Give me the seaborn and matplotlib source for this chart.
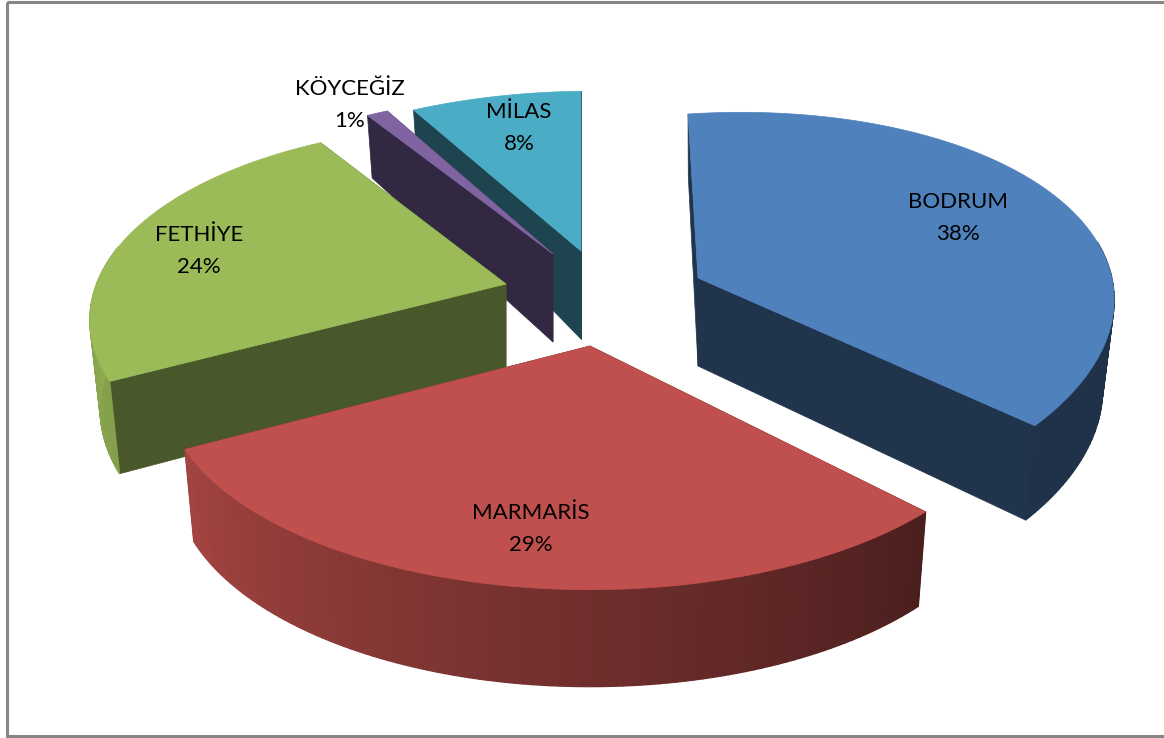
import numpy as np
import matplotlib
matplotlib.use("Agg")
import matplotlib.pyplot as plt
from matplotlib.patches import Rectangle
import seaborn as sns

# data
districts = ["BODRUM", "MARMARİS", "FETHİYE", "KÖYCEĞİZ", "MİLAS"]
shares = [38, 29, 24, 1, 8]

# style
base_colors = ["#4F81BD", "#C0504D", "#9BBB59", "#8064A2", "#4BACC6"]
apex_px = [(698, 278), (590, 346), (506, 284), (553, 254), (581, 251)]
label_px = [(958, 218), (531, 529), (199, 251), (350, 105), (519, 128)]
start_rot = [-1.7, 0, 0, 0, 0]
shear_px = [21, 0, -6, 0, 5]
width_k = [1.0, 1.022, 1.0, 1.0, 1.01]
height_k = [1.03, 1.0, 1.0, 1.0, 1.0]
dark_k = [0.4, 0.4, 0.47, 0.4, 0.4]
lower_k = [0.972, 0.978, 0.975, 0.975, 0.975]
draw_order = [4, 3, 2, 0, 1]

sns.set_theme(style="white")
plt.rcParams["font.family"] = ["Lato", "DejaVu Sans"]
palette = sns.color_palette(base_colors)

RX, RY, PERSP = 407.0, 193.0, 0.208


def rim(theta_deg, i):
    t = np.radians(theta_deg)
    x, y = np.sin(t), np.cos(t)
    w = 1 + PERSP * y
    apex = apex_px[i]
    return (apex[0] + RX * width_k[i] * x / w,
            apex[1] - (RY * height_k[i] * y + shear_px[i] * x) / w, w)


def lower(sx, sy, w, i):
    return (apex_px[i][0] + (sx - apex_px[i][0]) * lower_k[i],
            sy + np.interp(w, [0.79, 1.0, 1.18], [97, 88, 62]))


def wall_light(theta):
    return np.interp(theta, [137, 241, 272], [0.39, 0.85, 0.92])


fig = plt.figure(figsize=(11.64, 7.38), dpi=100)
ax = fig.add_axes([0, 0, 1, 1])
ax.set_xlim(0, 1164)
ax.set_ylim(738, 0)
ax.axis("off")
ax.add_patch(Rectangle((6.5, 1.5), 1170, 734.5, fill=False, ec="#868686", lw=2.2))

edges = np.concatenate([[0], np.cumsum(shares)]) * 3.6
for i in draw_order:
    col = np.array(palette[i])
    a0, a1 = edges[i] + start_rot[i], edges[i + 1] + start_rot[i]
    apex = apex_px[i]
    thetas = np.linspace(a0, a1, max(int(a1 - a0), 6))
    sx, sy, w = rim(thetas, i)
    bx, by = lower(sx, sy, w, i)
    abx, aby = lower(apex[0], apex[1], 1.0, i)
    dark = tuple(col * dark_k[i])
    # radial faces
    for k in (0, -1):
        ax.fill([apex[0], sx[k], bx[k], abx], [apex[1], sy[k], by[k], aby],
                color=dark, lw=0.5)
    # outer wall, only where it faces the viewer
    for k in range(len(thetas) - 1):
        mid = (thetas[k] + thetas[k + 1]) / 2
        if not 85 < mid < 280:
            continue
        ax.fill([sx[k], sx[k + 1], bx[k + 1], bx[k]], [sy[k], sy[k + 1], by[k + 1], by[k]],
                color=tuple(col * wall_light(mid)), lw=1.0)
    # top
    ax.fill(np.r_[apex[0], sx], np.r_[apex[1], sy], color=tuple(col), lw=0.5)

for name, val, (lx, ly) in zip(districts, shares, label_px):
    ax.text(lx, ly, f"{name}\n{val}%", ha="center", va="center", fontsize=16,
            color="black", linespacing=1.7, zorder=20)

fig.savefig("out.png", dpi=100)
